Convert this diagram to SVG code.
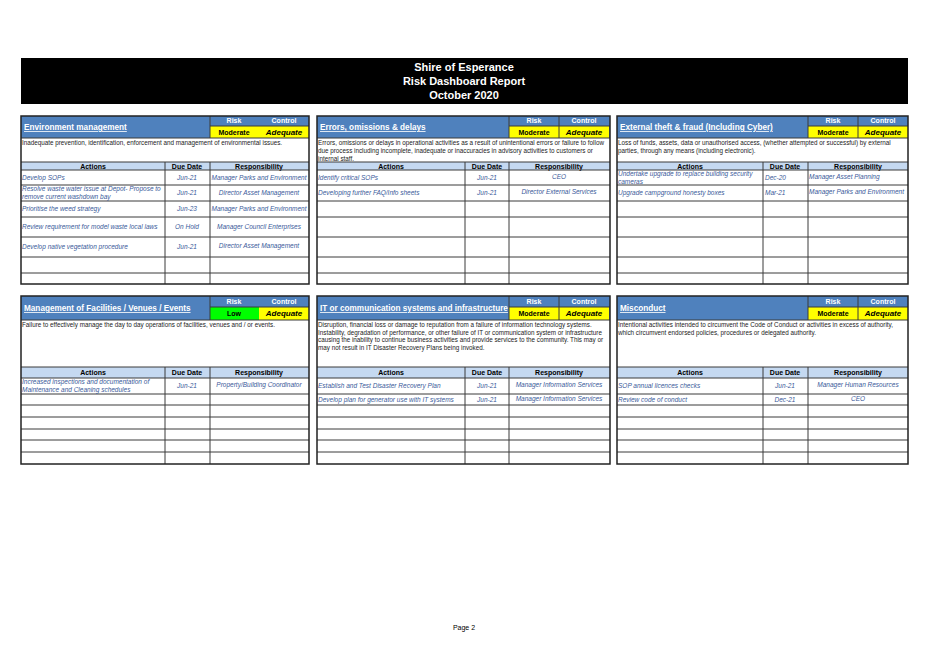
<svg xmlns="http://www.w3.org/2000/svg" width="929" height="657" viewBox="0 0 929 657">
<style>
text{font-family:"Liberation Sans",Arial,sans-serif}
.g{fill:none;stroke:#3a3a3a;stroke-width:1}
.ob{fill:none;stroke:#222;stroke-width:1.5}
.hd{fill:#4f81bd}
.ah{fill:#c5d9f1}
.ht{fill:#fff;font-size:8.2px;font-weight:bold;text-decoration:underline}
.rl{fill:#fff;font-size:7px;font-weight:bold;text-anchor:middle}
.mv{fill:#000;font-size:7px;font-weight:bold;text-anchor:middle}
.cv{fill:#000;font-size:8px;font-weight:bold;font-style:italic;text-anchor:middle}
.ds{fill:#222;font-size:6.3px}
.th{fill:#000;font-size:7px;font-weight:bold;text-anchor:middle}
.it{fill:#3a5a9a;font-size:6.5px;font-style:italic}
.c{text-anchor:middle}
</style>
<rect x="21" y="58" width="887" height="46" fill="#000"/>
<text x="464" y="71" fill="#fff" font-size="11" font-weight="bold" text-anchor="middle">Shire of Esperance</text>
<text x="464" y="85" fill="#fff" font-size="11" font-weight="bold" text-anchor="middle">Risk Dashboard Report</text>
<text x="464" y="99" fill="#fff" font-size="11" font-weight="bold" text-anchor="middle">October 2020</text>

<g id="p1">
<rect class="hd" x="21" y="116" width="288" height="22"/>
<rect x="210" y="126" width="49" height="12" fill="#ffff00"/><rect x="259" y="126" width="50" height="12" fill="#ffff00"/>
<rect class="ah" x="21" y="162" width="288" height="8"/>
<text class="ht" x="24" y="130">Environment management</text>
<text class="rl" x="234" y="123">Risk</text><text class="rl" x="284" y="123">Control</text>
<text class="mv" x="234" y="135">Moderate</text><text class="cv" x="284" y="135">Adequate</text>
<text class="ds" x="22" y="145">Inadequate prevention, identification, enforcement and management of environmental issues.</text>
<text class="th" x="93" y="169">Actions</text><text class="th" x="187" y="169">Due Date</text><text class="th" x="259" y="169">Responsibility</text>
<path class="g" d="M210 116V138M210 126H309M21 138H309M21 162H309M21 170H309M21 185H309M21 201H309M21 217H309M21 237H309M21 257H309M21 273H309M165 162V284M210 162V284"/>
<rect class="ob" x="21" y="116" width="288" height="168"/>
<text class="it" x="22" y="180">Develop SOPs</text><text class="it c" x="187" y="180">Jun-21</text><text class="it c" x="259" y="180">Manager Parks and Environment</text>
<text class="it" x="22" y="191">Resolve waste water issue at Depot- Propose to</text><text class="it" x="22" y="199">remove current washdown bay</text><text class="it c" x="187" y="195">Jun-21</text><text class="it c" x="259" y="195">Director Asset Management</text>
<text class="it" x="22" y="211">Prioritise the weed strategy</text><text class="it c" x="187" y="211">Jun-23</text><text class="it c" x="259" y="211">Manager Parks and Environment</text>
<text class="it" x="22" y="229">Review requirement for model waste local laws</text><text class="it c" x="187" y="229">On Hold</text><text class="it c" x="259" y="229">Manager Council Enterprises</text>
<text class="it" x="22" y="249">Develop native vegetation procedure</text><text class="it c" x="187" y="249">Jun-21</text><text class="it c" x="259" y="248">Director Asset Management</text>
</g>

<g id="p2">
<rect class="hd" x="317" y="116" width="293" height="22"/>
<rect x="509" y="126" width="100" height="12" fill="#ffff00"/>
<rect class="ah" x="317" y="162" width="293" height="8"/>
<text class="ht" x="320" y="130">Errors, omissions &amp; delays</text>
<text class="rl" x="534" y="123">Risk</text><text class="rl" x="584" y="123">Control</text>
<text class="mv" x="534" y="135">Moderate</text><text class="cv" x="584" y="135">Adequate</text>
<text class="ds" x="318" y="145">Errors, omissions or delays in operational activities as a result of unintentional errors or failure to follow</text>
<text class="ds" x="318" y="153">due process including incomplete, inadequate or inaccuracies in advisory activities to customers or</text>
<text class="ds" x="318" y="161">internal staff.</text>
<text class="th" x="391" y="169">Actions</text><text class="th" x="487" y="169">Due Date</text><text class="th" x="559" y="169">Responsibility</text>
<path class="g" d="M509 116V138M559 116V138M509 126H610M317 138H610M317 162H610M317 170H610M317 185H610M317 201H610M317 217H610M317 237H610M317 257H610M317 273H610M465 162V284M509 162V284"/>
<rect class="ob" x="317" y="116" width="293" height="168"/>
<text class="it" x="318" y="180">Identify critical SOPs</text><text class="it c" x="487" y="180">Jun-21</text><text class="it c" x="559" y="179">CEO</text>
<text class="it" x="318" y="195">Developing further FAQ/Info sheets</text><text class="it c" x="487" y="195">Jun-21</text><text class="it c" x="559" y="194">Director External Services</text>
</g>

<g id="p3">
<rect class="hd" x="617" y="116" width="291" height="22"/>
<rect x="808" y="126" width="100" height="12" fill="#ffff00"/>
<rect class="ah" x="617" y="162" width="291" height="8"/>
<text class="ht" x="620" y="130">External theft &amp; fraud (Including Cyber)</text>
<text class="rl" x="833" y="123">Risk</text><text class="rl" x="883" y="123">Control</text>
<text class="mv" x="833" y="135">Moderate</text><text class="cv" x="883" y="135">Adequate</text>
<text class="ds" x="618" y="145">Loss of funds, assets, data or unauthorised access, (whether attempted or successful) by external</text>
<text class="ds" x="618" y="153">parties, through any means (including electronic).</text>
<text class="th" x="690" y="169">Actions</text><text class="th" x="785" y="169">Due Date</text><text class="th" x="858" y="169">Responsibility</text>
<path class="g" d="M808 116V138M858 116V138M808 126H908M617 138H908M617 162H908M617 170H908M617 185H908M617 201H908M617 217H908M617 237H908M617 257H908M617 273H908M763 162V284M808 162V284"/>
<rect class="ob" x="617" y="116" width="291" height="168"/>
<text class="it" x="618" y="176">Undertake upgrade to replace building security</text><text class="it" x="618" y="184">cameras</text><text class="it" x="765" y="180">Dec-20</text><text class="it" x="809" y="179">Manager Asset Planning</text>
<text class="it" x="618" y="195">Upgrade campground honesty boxes</text><text class="it" x="765" y="195">Mar-21</text><text class="it" x="809" y="194">Manager Parks and Environment</text>
</g>

<g id="p4">
<rect class="hd" x="21" y="296" width="288" height="24"/>
<rect x="210" y="307" width="49" height="13" fill="#00ff00"/><rect x="259" y="307" width="50" height="13" fill="#ffff00"/>
<rect class="ah" x="21" y="367" width="288" height="11"/>
<text class="ht" x="24" y="311">Management of Facilities / Venues / Events</text>
<text class="rl" x="234" y="304">Risk</text><text class="rl" x="284" y="304">Control</text>
<text class="mv" x="234" y="316">Low</text><text class="cv" x="284" y="316">Adequate</text>
<text class="ds" x="22" y="327">Failure to effectively manage the day to day operations of facilities, venues and / or events.</text>
<text class="th" x="93" y="375">Actions</text><text class="th" x="187" y="375">Due Date</text><text class="th" x="259" y="375">Responsibility</text>
<path class="g" d="M210 296V320M210 307H309M21 320H309M21 367H309M21 378H309M21 394H309M21 405H309M21 417H309M21 429H309M21 440H309M21 452H309M165 367V464M210 367V464"/>
<rect class="ob" x="21" y="296" width="288" height="168"/>
<text class="it" x="22" y="384">Increased inspections and documentation of</text><text class="it" x="22" y="392">Maintenance and Cleaning schedules</text><text class="it c" x="187" y="388">Jun-21</text><text class="it c" x="259" y="387">Property/Building Coordinator</text>
</g>

<g id="p5">
<rect class="hd" x="317" y="296" width="293" height="24"/>
<rect x="509" y="307" width="100" height="13" fill="#ffff00"/>
<rect class="ah" x="317" y="367" width="293" height="11"/>
<text class="ht" x="320" y="311">IT or communication systems and infrastructure</text>
<text class="rl" x="534" y="304">Risk</text><text class="rl" x="584" y="304">Control</text>
<text class="mv" x="534" y="316">Moderate</text><text class="cv" x="584" y="316">Adequate</text>
<text class="ds" x="318" y="327">Disruption, financial loss or damage to reputation from a failure of information technology systems.</text>
<text class="ds" x="318" y="334.5">Instability, degradation of performance, or other failure of IT or communication system or infrastructure</text>
<text class="ds" x="318" y="342">causing the inability to continue business activities and provide services to the community.  This may or</text>
<text class="ds" x="318" y="349.5">may not result in IT Disaster Recovery Plans being invoked.</text>
<text class="th" x="391" y="375">Actions</text><text class="th" x="487" y="375">Due Date</text><text class="th" x="559" y="375">Responsibility</text>
<path class="g" d="M509 296V320M559 296V320M509 307H610M317 320H610M317 367H610M317 378H610M317 394H610M317 405H610M317 417H610M317 429H610M317 440H610M317 452H610M465 367V464M509 367V464"/>
<rect class="ob" x="317" y="296" width="293" height="168"/>
<text class="it" x="318" y="388">Establish and Test Disaster Recovery Plan</text><text class="it c" x="487" y="388">Jun-21</text><text class="it c" x="559" y="387">Manager Information Services</text>
<text class="it" x="318" y="402">Develop plan for generator use with IT systems</text><text class="it c" x="487" y="402">Jun-21</text><text class="it c" x="559" y="401">Manager Information Services</text>
</g>

<g id="p6">
<rect class="hd" x="617" y="296" width="291" height="24"/>
<rect x="808" y="307" width="100" height="13" fill="#ffff00"/>
<rect class="ah" x="617" y="367" width="291" height="11"/>
<text class="ht" x="620" y="311">Misconduct</text>
<text class="rl" x="833" y="304">Risk</text><text class="rl" x="883" y="304">Control</text>
<text class="mv" x="833" y="316">Moderate</text><text class="cv" x="883" y="316">Adequate</text>
<text class="ds" x="618" y="327">Intentional activities intended to circumvent the Code of Conduct or activities in excess of authority,</text>
<text class="ds" x="618" y="334.5">which circumvent endorsed policies, procedures or delegated authority.</text>
<text class="th" x="690" y="375">Actions</text><text class="th" x="785" y="375">Due Date</text><text class="th" x="858" y="375">Responsibility</text>
<path class="g" d="M808 296V320M858 296V320M808 307H908M617 320H908M617 367H908M617 378H908M617 394H908M617 405H908M617 417H908M617 429H908M617 440H908M617 452H908M763 367V464M808 367V464"/>
<rect class="ob" x="617" y="296" width="291" height="168"/>
<text class="it" x="618" y="388">SOP annual licences checks</text><text class="it c" x="785" y="388">Jun-21</text><text class="it c" x="858" y="387">Manager Human Resources</text>
<text class="it" x="618" y="402">Review code of conduct</text><text class="it c" x="785" y="402">Dec-21</text><text class="it c" x="858" y="401">CEO</text>
</g>
<text x="464" y="630" font-size="7" fill="#000" text-anchor="middle">Page 2</text>
</svg>
